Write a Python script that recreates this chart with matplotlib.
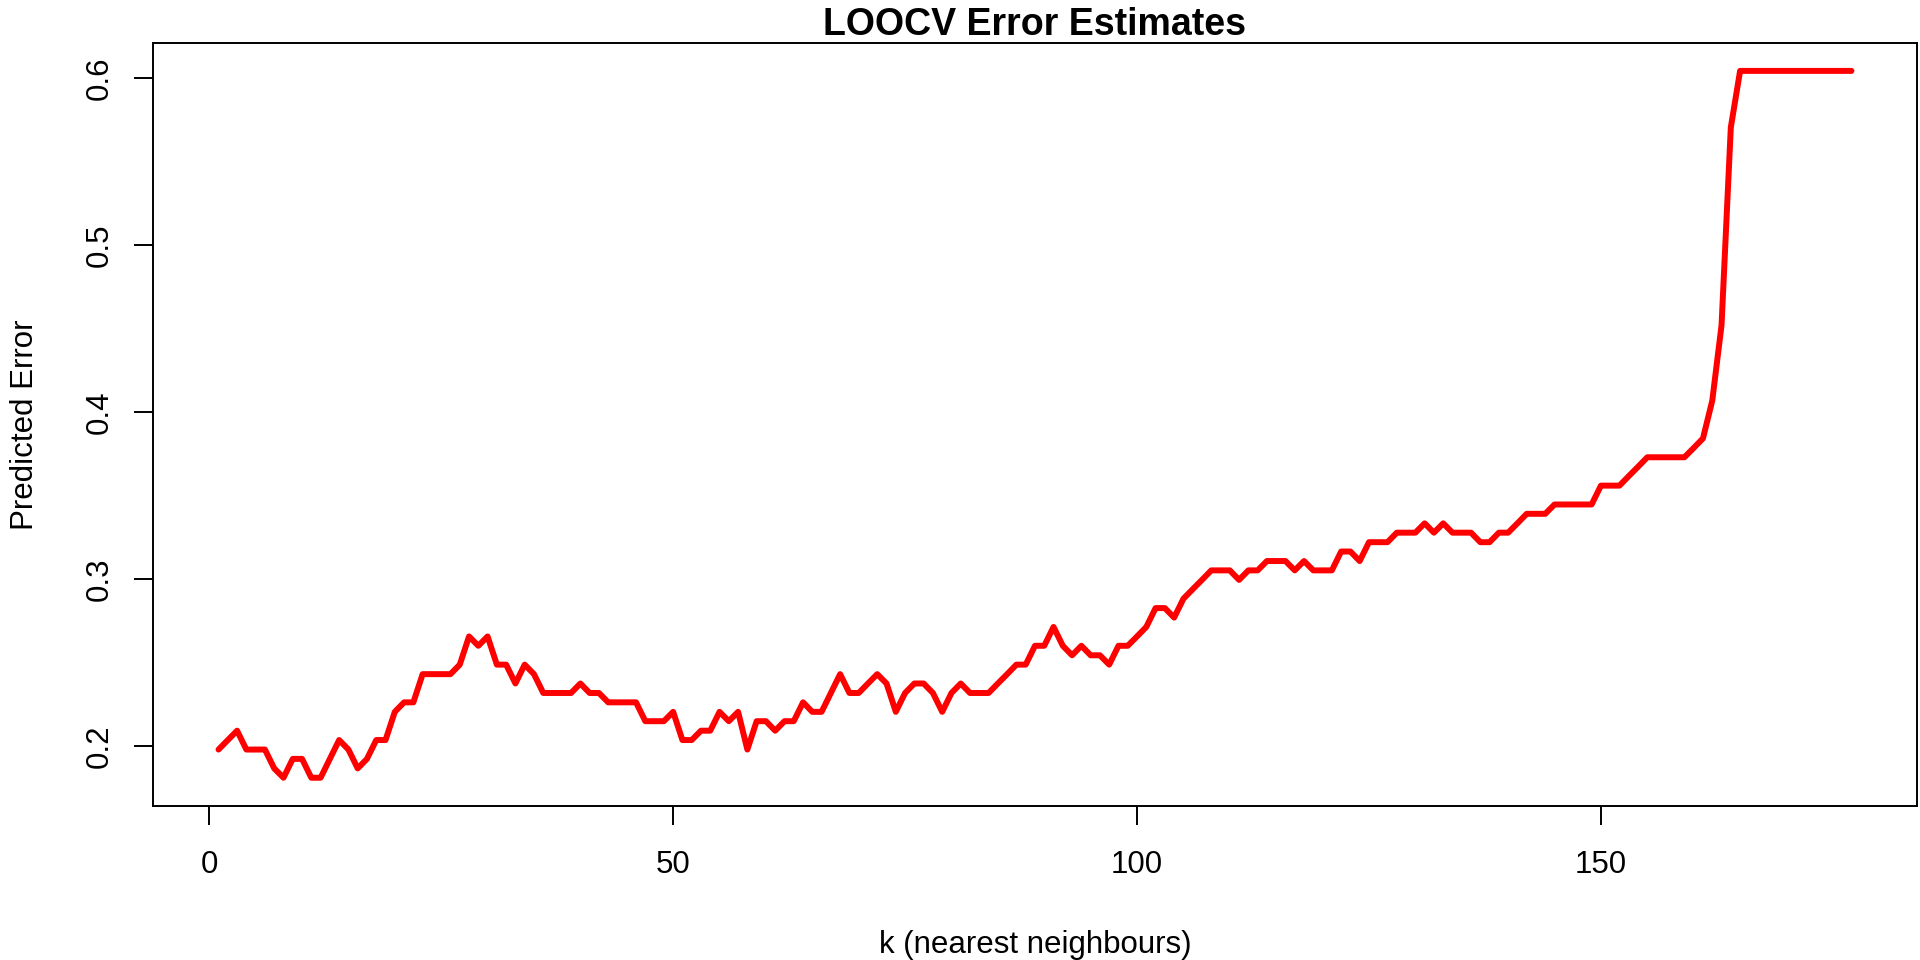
import matplotlib
matplotlib.use("Agg")
import matplotlib.pyplot as plt

plt.rcParams["font.family"] = ["Liberation Sans", "DejaVu Sans"]

# LOOCV error per k
k_values = list(range(1, 178))
errors = [
    0.1977, 0.2034, 0.2090, 0.1977, 0.1977, 0.1977, 0.1864, 0.1808, 0.1921, 0.1921,
    0.1808, 0.1808, 0.1921, 0.2034, 0.1977, 0.1864, 0.1921, 0.2034, 0.2034, 0.2203,
    0.2260, 0.2260, 0.2429, 0.2429, 0.2429, 0.2429, 0.2486, 0.2655, 0.2599, 0.2655,
    0.2486, 0.2486, 0.2373, 0.2486, 0.2429, 0.2316, 0.2316, 0.2316, 0.2316, 0.2373,
    0.2316, 0.2316, 0.2260, 0.2260, 0.2260, 0.2260, 0.2147, 0.2147, 0.2147, 0.2203,
    0.2034, 0.2034, 0.2090, 0.2090, 0.2203, 0.2147, 0.2203, 0.1977, 0.2147, 0.2147,
    0.2090, 0.2147, 0.2147, 0.2260, 0.2203, 0.2203, 0.2316, 0.2429, 0.2316, 0.2316,
    0.2373, 0.2429, 0.2373, 0.2203, 0.2316, 0.2373, 0.2373, 0.2316, 0.2203, 0.2316,
    0.2373, 0.2316, 0.2316, 0.2316, 0.2373, 0.2429, 0.2486, 0.2486, 0.2599, 0.2599,
    0.2712, 0.2599, 0.2542, 0.2599, 0.2542, 0.2542, 0.2486, 0.2599, 0.2599, 0.2655,
    0.2712, 0.2825, 0.2825, 0.2768, 0.2881, 0.2938, 0.2994, 0.3051, 0.3051, 0.3051,
    0.2994, 0.3051, 0.3051, 0.3107, 0.3107, 0.3107, 0.3051, 0.3107, 0.3051, 0.3051,
    0.3051, 0.3164, 0.3164, 0.3107, 0.3220, 0.3220, 0.3220, 0.3277, 0.3277, 0.3277,
    0.3333, 0.3277, 0.3333, 0.3277, 0.3277, 0.3277, 0.3220, 0.3220, 0.3277, 0.3277,
    0.3333, 0.3390, 0.3390, 0.3390, 0.3446, 0.3446, 0.3446, 0.3446, 0.3446, 0.3559,
    0.3559, 0.3559, 0.3616, 0.3672, 0.3729, 0.3729, 0.3729, 0.3729, 0.3729, 0.3785,
    0.3842, 0.4068, 0.4520, 0.5706, 0.6045, 0.6045, 0.6045, 0.6045, 0.6045, 0.6045,
    0.6045, 0.6045, 0.6045, 0.6045, 0.6045, 0.6045, 0.6045,
]
x_ticks = [0, 50, 100, 150]
y_ticks = [0.2, 0.3, 0.4, 0.5, 0.6]

fig = plt.figure(figsize=(19.2, 9.6), dpi=100)
ax = fig.add_axes([0.0798, 0.1604, 0.9185, 0.7952])

ax.plot(k_values, errors, color="red", linewidth=4.3,
        solid_capstyle="round", solid_joinstyle="round")

# R-style 4% padding around the data range
xr = max(k_values) - min(k_values)
yr = max(errors) - min(errors)
ax.set_xlim(min(k_values) - 0.04 * xr, max(k_values) + 0.04 * xr)
ax.set_ylim(min(errors) - 0.04 * yr, max(errors) + 0.04 * yr)

ax.set_xticks(x_ticks)
ax.set_xticklabels([str(t) for t in x_ticks])
ax.set_yticks(y_ticks)
ax.set_yticklabels([f"{t:.1f}" for t in y_ticks], rotation=90, va="center")

ax.tick_params(axis="both", direction="out", length=14, width=1.4,
               labelsize=22.5, color="black")
ax.tick_params(axis="x", pad=18)
ax.tick_params(axis="y", pad=14)
for s in ax.spines.values():
    s.set_linewidth(1.4)

ax.set_title("LOOCV Error Estimates", fontsize=27, fontweight="bold", pad=5)
ax.set_xlabel("k (nearest neighbours)", fontsize=22.5, labelpad=36)
ax.set_ylabel("Predicted Error", fontsize=22.5, labelpad=32)

fig.savefig("out.png", dpi=100)
